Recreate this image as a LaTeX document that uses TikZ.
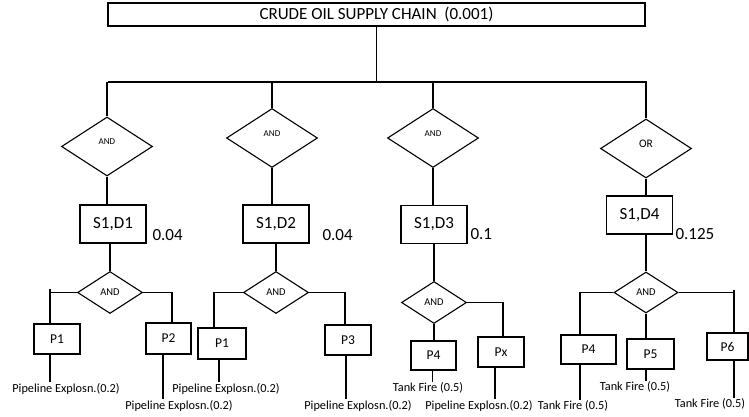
\documentclass[tikz,border=0pt]{standalone}
\usepackage{fontspec}
\setmainfont{Carlito}
\usetikzlibrary{shapes.geometric}
\newcommand{\gatetext}[1]{\raisebox{4.5pt}[\height][\depth]{#1}}
\begin{document}
\begin{tikzpicture}[x=1pt,y=-1pt,line width=1.1pt,
  titlebox/.style={draw,rectangle,inner sep=0pt,minimum width=537pt,minimum height=23pt,font=\fontsize{17}{20}\selectfont},
  gate/.style={draw,diamond,inner sep=0pt,minimum width=91pt,minimum height=59pt,font=\fontsize{9}{10}\selectfont},
  subgate/.style={draw,diamond,inner sep=0pt,minimum width=65pt,minimum height=42pt,font=\fontsize{10.5}{12}\selectfont},
  sbox/.style={draw,rectangle,inner sep=0pt,minimum width=66pt,minimum height=38pt,font=\fontsize{17}{20}\selectfont},
  pbox/.style={draw,rectangle,inner sep=0pt,minimum width=46pt,minimum height=30pt,font=\fontsize{13.5}{16}\selectfont},
  val/.style={anchor=west,inner sep=0pt,font=\fontsize{17}{20}\selectfont},
  event/.style={inner sep=0.6pt,font=\fontsize{12.3}{14}\selectfont}]
\useasboundingbox[fill=white] (0,0) rectangle (749,417);

% top event and the bus below it
\node[titlebox] (top) at (376.5,14.5) {CRUDE OIL SUPPLY CHAIN\ \ (0.001)};
\coordinate (busL) at (108,82);
\coordinate (busR) at (647,82);
\draw (top.south) -- (top.south |- busL);
\draw (busL) -- (busR);

% first-level gates
\node[gate] (g1) at (107,146.5) {\gatetext{AND}};
\node[gate] (g2) at (272,138) {\gatetext{AND}};
\node[gate] (g3) at (433,138) {\gatetext{AND}};
\node[gate,font=\fontsize{11.5}{13}\selectfont] (g4) at (646,148.5) {\gatetext{OR}};
\draw (g1.north |- busL) -- (g1.north);
\draw (g2.north |- busL) -- (g2.north);
\draw (g3.north |- busL) -- (g3.north);
\draw (g4.north |- busR) -- (g4.north);

% supply / demand nodes
\node[sbox] (s1) at (113,224) {S1,D1};
\node[sbox] (s2) at (276,224) {S1,D2};
\node[sbox] (s3) at (434,224.5) {S1,D3};
\node[sbox] (s4) at (639.5,215) {S1,D4};
\node[val] (v1) at (152,235) {0.04};
\node[val] (v2) at (322,235) {0.04};
\node[val] (v3) at (470,234) {0.1};
\node[val] (v4) at (675,234) {0.125};
\draw (g1.south) -- (g1.south |- s1.north);
\draw (g2.south) -- (g2.south |- s2.north);
\draw (g3.south) -- (g3.south |- s3.north);
\draw (g4.south) -- (g4.south |- s4.north);

% second-level gates
\node[subgate] (a1) at (110,292.5) {AND};
\node[subgate] (a2) at (276,292.5) {AND};
\node[subgate] (a3) at (434,302.5) {AND};
\node[subgate,minimum width=64pt,minimum height=41pt] (a4) at (646,292.5) {AND};
\draw (s1.south -| a1.north) -- (a1.north);
\draw (s2.south -| a2.north) -- (a2.north);
\draw (s3.south -| a3.north) -- (a3.north);
\draw (s4.south -| a4.north) -- (a4.north);

% pipelines and tanks
\node[pbox] (p11) at (57,339) {P1};
\node[pbox,minimum width=45pt,minimum height=31pt] (p12) at (168.5,338.5) {P2};
\node[pbox,minimum width=48pt,minimum height=31pt] (p21) at (222,343.5) {P1};
\node[pbox] (p23) at (348,340) {P3};
\node[pbox,minimum width=45pt,minimum height=29pt] (p34) at (433.5,355.5) {P4};
\node[pbox] (p3x) at (501,352) {Px};
\node[pbox,minimum width=55pt,minimum height=29pt] (p44) at (588.5,349.5) {P4};
\node[pbox,minimum width=47pt] (p45) at (650.5,354) {P5};
\node[pbox,minimum width=41pt,minimum height=27pt] (p46) at (727.5,346.5) {P6};

% failure events
\node[event] (e11) at (66,389) {Pipeline Explosn.(0.2)};
\node[event] (e12) at (179,406) {Pipeline Explosn.(0.2)};
\node[event] (e21) at (226,389) {Pipeline Explosn.(0.2)};
\node[event] (e23) at (358,406) {Pipeline Explosn.(0.2)};
\node[event] (e34) at (428,388) {Tank Fire (0.5)};
\node[event] (e3x) at (479,406) {Pipeline Explosn.(0.2)};
\node[event] (e44) at (573,406) {Tank Fire (0.5)};
\node[event] (e45) at (635,387) {Tank Fire (0.5)};
\node[event] (e46) at (710,404) {Tank Fire (0.5)};

% branch corners
\coordinate (k11) at (50,292.5);
\coordinate (k12) at (172,292.5);
\coordinate (k21) at (214,292.5);
\coordinate (k23) at (345,292.5);
\coordinate (k3x) at (503,302.5);
\coordinate (k44) at (580,292.5);
\coordinate (k46) at (734,292.5);

% gate 1 branches
\draw (a1.west) -- (k11);
\draw (k11) ++(0,-4) -- (k11 |- p11.north);
\draw (k11 |- p11.south) -- (k11 |- e11.north);
\draw (a1.east) -- (k12) -- (k12 |- p12.north);
\draw ([xshift=-5.5pt]p12.south) -- ([xshift=-5.5pt]p12.south |- e12.north);

% gate 2 branches
\draw (a2.west) -- (k21) -- (k21 |- p21.north);
\draw ([xshift=-3pt]p21.south) -- ([xshift=-3pt]p21.south |- e21.north);
\draw (a2.east) -- (k23) -- (k23 |- p23.north);
\draw ([xshift=-2pt]p23.south) -- ([xshift=-2pt]p23.south |- e23.north);

% gate 3 branches
\draw (a3.south) -- (a3.south |- p34.north);
\draw ([xshift=-1pt]p34.south) -- ([xshift=-1pt]p34.south |- e34.north);
\draw (a3.east) -- (k3x) -- (k3x |- p3x.north);
\draw ([xshift=-6pt]p3x.south) -- ([xshift=-6pt]p3x.south |- e3x.north);

% gate 4 branches
\draw (a4.west) -- (k44) -- (k44 |- p44.north);
\draw (k44 |- p44.south) -- (k44 |- e44.north);
\draw (a4.south) -- (a4.south |- p45.north);
\draw (a4.south |- p45.south) -- (a4.south |- e45.north);
\draw (a4.east) -- (k46);
\draw (k46) ++(0,-3) -- (k46 |- p46.north);
\draw (k46 |- p46.south) -- (k46 |- e46.north);
\end{tikzpicture}
\end{document}
